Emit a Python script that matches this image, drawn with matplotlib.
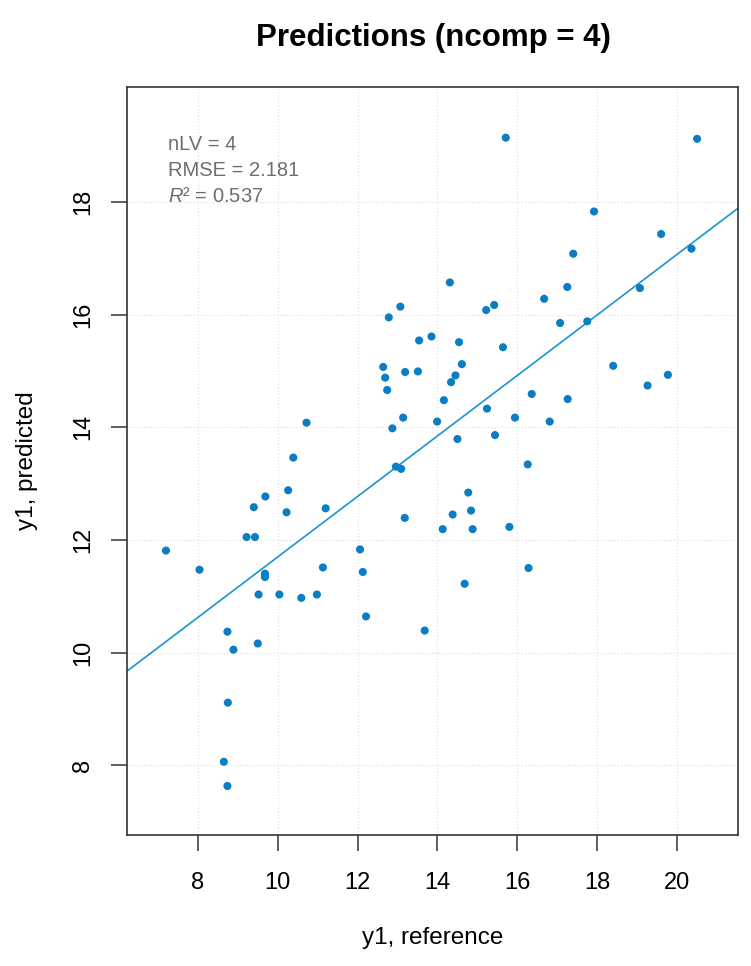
#Imports
import matplotlib
matplotlib.use("Agg")
import matplotlib.pyplot as plt
import numpy as np

#Reference (x) and predicted (y) values
y1_reference = [15.71, 20.50, 17.92, 19.60, 20.36, 17.40, 14.31, 17.25, 19.07, 16.67,
                13.07, 15.42, 15.22, 12.78, 17.07, 17.75, 13.85, 13.54, 14.54, 15.64,
                14.61, 12.64, 13.19, 13.51, 14.45, 12.69, 18.40, 19.77, 19.26, 14.34,
                12.74, 14.16, 16.36, 17.26, 15.24, 15.94, 13.14, 16.81, 13.99, 10.72,
                12.87, 14.50, 15.44, 10.39, 16.26, 12.96, 13.09, 10.26, 14.77, 9.69,
                9.40, 11.20, 14.84, 10.22, 14.38, 13.18, 15.80, 14.13, 14.88, 9.22,
                9.43, 12.06, 7.20, 8.04, 12.13, 11.13, 16.28, 9.68, 9.68, 14.68,
                9.52, 10.04, 10.98, 10.59, 12.21, 13.68, 8.74, 9.50, 8.89, 8.75,
                8.65, 8.74]
y1_predicted = [19.14, 19.12, 17.83, 17.43, 17.17, 17.08, 16.57, 16.49, 16.47, 16.28,
                16.14, 16.17, 16.08, 15.95, 15.85, 15.88, 15.61, 15.54, 15.51, 15.42,
                15.12, 15.07, 14.98, 14.99, 14.92, 14.88, 15.09, 14.93, 14.74, 14.80,
                14.66, 14.48, 14.59, 14.50, 14.33, 14.17, 14.17, 14.10, 14.10, 14.08,
                13.98, 13.79, 13.86, 13.46, 13.34, 13.30, 13.26, 12.88, 12.84, 12.77,
                12.58, 12.56, 12.52, 12.49, 12.45, 12.39, 12.23, 12.19, 12.19, 12.05,
                12.05, 11.83, 11.81, 11.47, 11.43, 11.51, 11.50, 11.40, 11.34, 11.22,
                11.03, 11.03, 11.03, 10.97, 10.64, 10.39, 10.37, 10.16, 10.05, 9.11,
                8.06, 7.63]
x_ticks = [8, 10, 12, 14, 16, 18, 20]
y_ticks = [8, 10, 12, 14, 16, 18]
stats_lines = ["nLV = 4", "RMSE = 2.181", r"$R$² = 0.537"]

plt.rcParams['font.family'] = ['Liberation Sans', 'DejaVu Sans']
plt.rcParams['mathtext.fontset'] = 'custom'
plt.rcParams['mathtext.rm'] = 'Liberation Sans'
plt.rcParams['mathtext.it'] = 'Liberation Sans:italic'

fig = plt.figure(figsize=(7.51, 9.66), dpi=100)
ax = fig.add_axes([127/751, 1 - 835/966, (738-127)/751, (835-87)/966])

#grid first so points sit on top
ax.grid(True, color='#e2e2e2', linestyle=':', linewidth=0.9)
ax.set_axisbelow(True)

ax.scatter(y1_reference, y1_predicted, s=34, color='#0a7ec2', edgecolors='none', zorder=3)

#fitted line across the whole panel
slope, intercept = np.polyfit(y1_reference, y1_predicted, 1)
ax.axline((0, intercept), slope=slope, color='#1b94cf', linewidth=1.2, zorder=2)

ax.set_xlim(6.225, 21.525)
ax.set_ylim(6.76, 20.04)
ax.set_xticks(x_ticks)
ax.set_yticks(y_ticks)
ax.tick_params(direction='out', length=11.5, width=1.1, color='#333333',
               labelsize=17)
ax.tick_params(axis='x', pad=15)
ax.tick_params(axis='y', pad=12)
for lab in ax.get_yticklabels():
    lab.set_rotation(90)
    lab.set_va('center')
for sp in ax.spines.values():
    sp.set_color('#333333')
    sp.set_linewidth(1.2)

#stats block in the top left corner
for i, txt in enumerate(stats_lines):
    ax.text(168/751, 1 - (145 + 25.5*i)/966, txt, transform=fig.transFigure,
            fontsize=14.5, color='#6e6e6e', ha='left', va='center')

fig.text(433/751, 1 - 38/966, "Predictions (ncomp = 4)", fontsize=22.5,
         fontweight='bold', ha='center', va='center')
fig.text(433/751, 1 - 938/966, "y1, reference", fontsize=17.5,
         ha='center', va='center')
fig.text(27/751, 1 - 461/966, "y1, predicted", fontsize=17.5,
         ha='center', va='center', rotation=90)

fig.savefig("out.png", dpi=100)
